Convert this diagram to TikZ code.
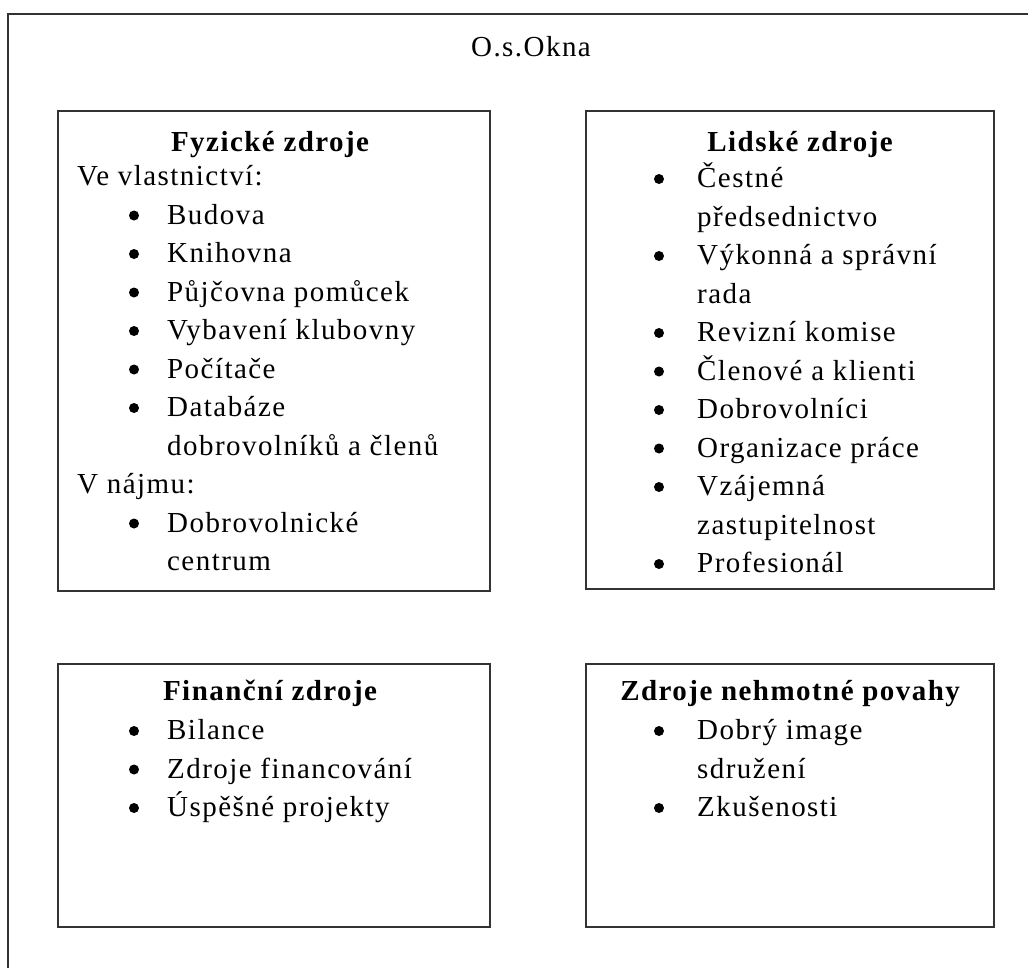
\documentclass[tikz,border=0pt]{standalone}
\usepackage{fontspec}
\setmainfont{Liberation Serif}[LetterSpace=5]
\usetikzlibrary{calc}

\begin{document}
\begin{tikzpicture}[
  x=1pt,
  y=-1pt,
  font=\fontsize{29}{38}\selectfont,
  frame/.style={draw=black!80,line width=2.2pt},
  res box/.style={frame,anchor=north west,inner sep=0pt},
  box title/.style={font=\fontsize{29}{38}\selectfont\bfseries,inner sep=0pt,
    text height=19pt,text depth=0pt},
  entry/.style={anchor=west,inner sep=0pt,text height=19pt,text depth=0pt},
  dot/.style={fill=black}
]
  \path[use as bounding box] (0,0) rectangle (1028,967);

  % outer frame, cut off at the right and the bottom
  \draw[frame] (8,990) -- (8,14) -- (1050,14);
  \node[inner sep=0pt,text height=19pt,text depth=0pt] (org) at (531,47) {O.s.Okna};

  % the four groups of resources
  \node[res box,minimum width=432,minimum height=480] (fyz) at (57,110) {};
  \node[res box,minimum width=408,minimum height=478] (lid) at (585,110) {};
  \node[res box,minimum width=432,minimum height=263] (fin) at (57,663) {};
  \node[res box,minimum width=408,minimum height=263] (neh) at (585,663) {};

  \node[box title] (fyz-t) at ($(fyz.north)+(-4,32)$) {Fyzické zdroje};
  \node[box title] (lid-t) at ($(lid.north)+(10,32)$) {Lidské zdroje};
  \node[box title] (fin-t) at ($(fin.north)+(-4,28)$) {Finanční zdroje};
  \node[box title] (neh-t) at ($(neh.north)+(0,28)$) {Zdroje nehmotné povahy};

  % lines of text; the indent is the first value
  \foreach \dx/\txt [count=\i] in {20/Ve vlastnictví:,110/Budova,110/Knihovna,
      110/Půjčovna pomůcek,110/Vybavení klubovny,110/Počítače,110/Databáze,
      110/dobrovolníků a členů,20/V nájmu:,110/Dobrovolnické,110/centrum}{
    \node[entry] (fyz-\i) at ($(fyz.north west)+(\dx,27.5+38.5*\i)$) {\txt};
  }
  \foreach \txt [count=\i] in {Čestné,předsednictvo,Výkonná a správní,rada,
      Revizní komise,Členové a klienti,Dobrovolníci,Organizace práce,
      Vzájemná,zastupitelnost,Profesionál}{
    \node[entry] (lid-\i) at ($(lid.north west)+(112,29.5+38.5*\i)$) {\txt};
  }
  \foreach \txt [count=\i] in {Bilance,Zdroje financování,Úspěšné projekty}{
    \node[entry] (fin-\i) at ($(fin.north west)+(110,28.5+38.5*\i)$) {\txt};
  }
  \foreach \txt [count=\i] in {Dobrý image,sdružení,Zkušenosti}{
    \node[entry] (neh-\i) at ($(neh.north west)+(112,28.5+38.5*\i)$) {\txt};
  }

  % bullets
  \foreach \i in {2,...,7,10}
    \fill[dot] ($(fyz-\i.west)+(-33,1)$) circle[radius=5];
  \foreach \i in {1,3,5,6,7,8,9,11}
    \fill[dot] ($(lid-\i.west)+(-38,1)$) circle[radius=5];
  \foreach \i in {1,2,3}
    \fill[dot] ($(fin-\i.west)+(-33,1)$) circle[radius=5];
  \foreach \i in {1,3}
    \fill[dot] ($(neh-\i.west)+(-38,1)$) circle[radius=5];
\end{tikzpicture}
\end{document}
